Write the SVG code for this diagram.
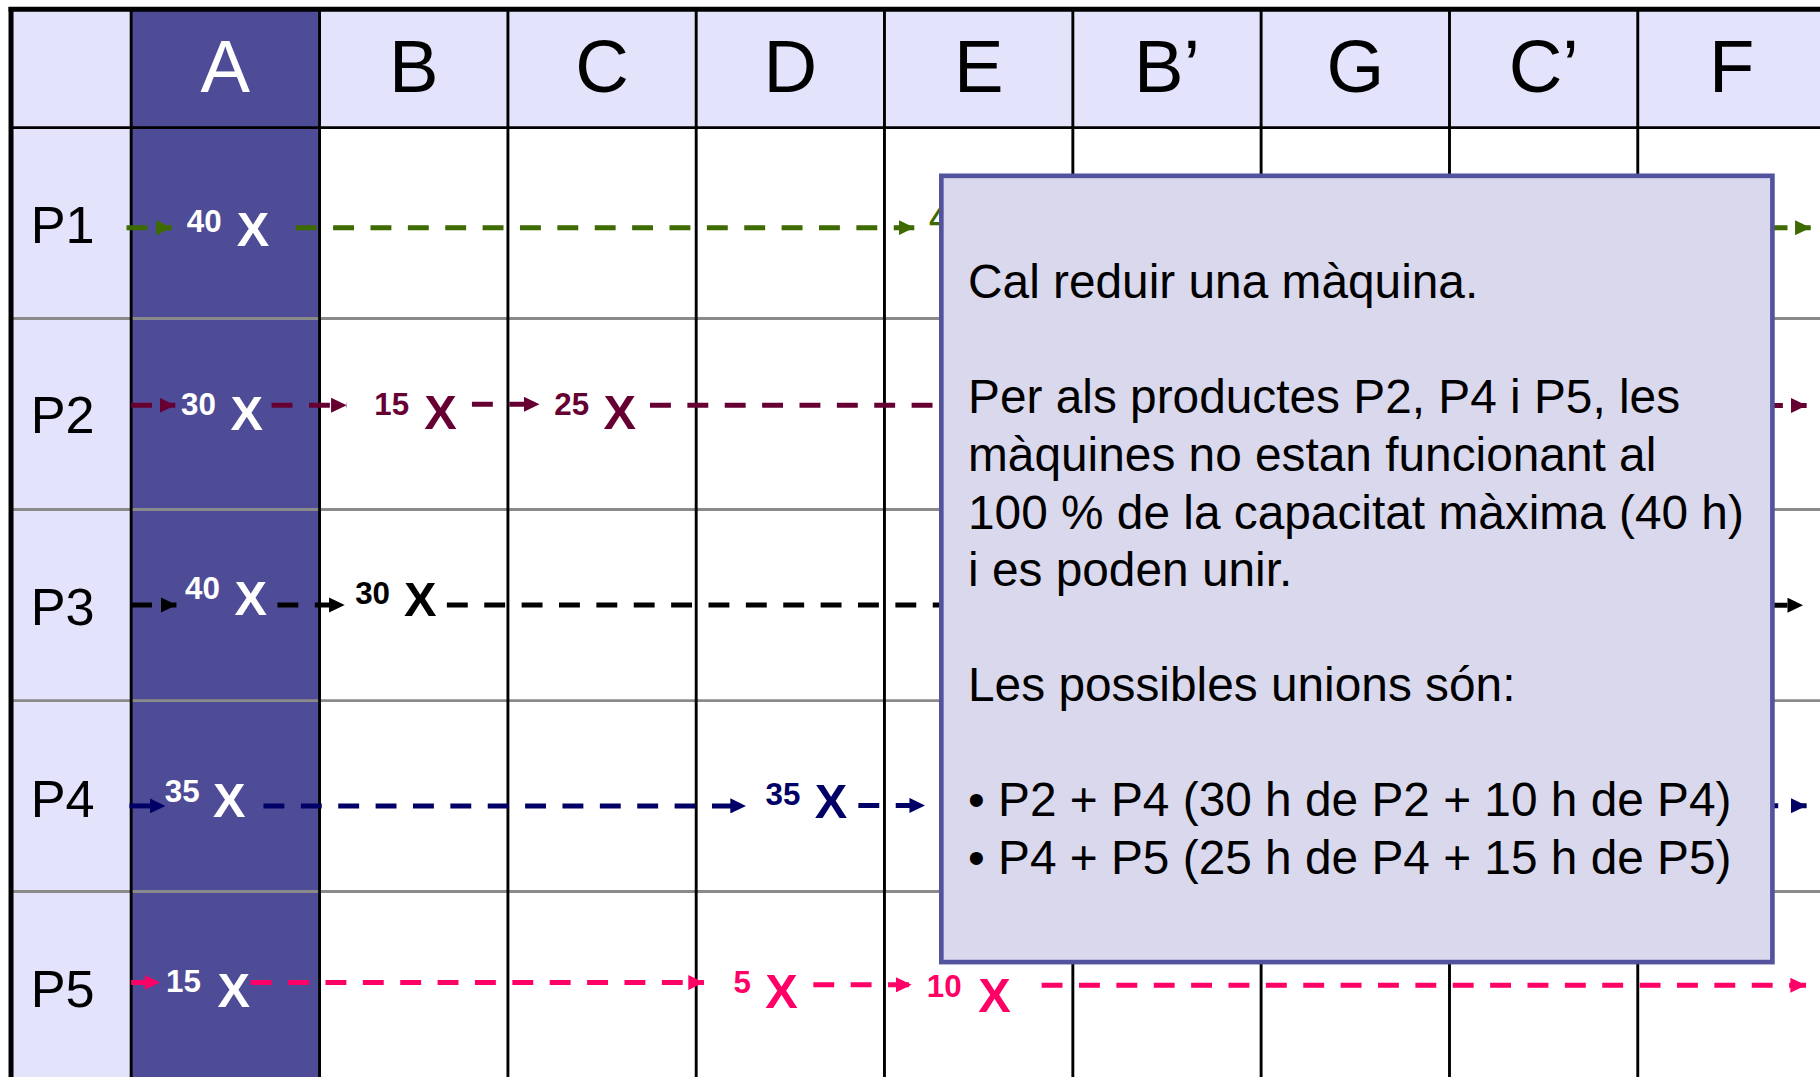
<svg xmlns="http://www.w3.org/2000/svg" width="1820" height="1077" viewBox="0 0 1820 1077">
<defs>
<style>
text{font-family:"Liberation Sans",Arial,Helvetica,sans-serif}
.hdr{font-size:64px;text-anchor:middle;fill:#000}
.rl{font-size:45px;fill:#000}
.num{font-size:27px;font-weight:bold}
.x{font-size:42px;font-weight:bold}
.note{font-size:41.2px;fill:#000}
.w{fill:#fff}
.vl{stroke:#000;stroke-width:2.5}
.hl{stroke:#8a8a8a;stroke-width:2.5}
.c{fill:none;stroke-width:4.3;stroke-dasharray:18 14.2}
.g{stroke:#3d6b00}.gt{fill:#3d6b00}
.m{stroke:#660033}.mt{fill:#660033}
.k{stroke:#000}.kt{fill:#000}
.n{stroke:#000066}.nt{fill:#000066}
.p{stroke:#ff0066}.pt{fill:#ff0066}
</style>
<marker id="ag" markerUnits="userSpaceOnUse" viewBox="0 0 13.5 13" refX="13.5" refY="6.5" markerWidth="13.5" markerHeight="13" orient="auto"><path d="M0,0 L13.5,6.5 L0,13 z" fill="#3d6b00"/></marker>
<marker id="am" markerUnits="userSpaceOnUse" viewBox="0 0 13.5 13" refX="13.5" refY="6.5" markerWidth="13.5" markerHeight="13" orient="auto"><path d="M0,0 L13.5,6.5 L0,13 z" fill="#660033"/></marker>
<marker id="ak" markerUnits="userSpaceOnUse" viewBox="0 0 13.5 13" refX="13.5" refY="6.5" markerWidth="13.5" markerHeight="13" orient="auto"><path d="M0,0 L13.5,6.5 L0,13 z" fill="#000"/></marker>
<marker id="an" markerUnits="userSpaceOnUse" viewBox="0 0 13.5 13" refX="13.5" refY="6.5" markerWidth="13.5" markerHeight="13" orient="auto"><path d="M0,0 L13.5,6.5 L0,13 z" fill="#000066"/></marker>
<marker id="ap" markerUnits="userSpaceOnUse" viewBox="0 0 13.5 13" refX="13.5" refY="6.5" markerWidth="13.5" markerHeight="13" orient="auto"><path d="M0,0 L13.5,6.5 L0,13 z" fill="#ff0066"/></marker>
</defs>
<rect x="0" y="0" width="1820" height="1077" fill="#fff"/>
<g transform="scale(1.160714 1.16056)">
<g id="grid">
<rect x="9.5" y="8" width="1560" height="102" fill="#e3e3fb"/>
<rect x="9.5" y="110" width="103.5" height="820" fill="#e3e3fb"/>
<rect x="113" y="8" width="162.3" height="922" fill="#4f4c97"/>
<line class="hl" x1="9.5" y1="274.5" x2="1570" y2="274.5"/>
<line class="hl" x1="9.5" y1="439" x2="1570" y2="439"/>
<line class="hl" x1="9.5" y1="603.7" x2="1570" y2="603.7"/>
<line class="hl" x1="9.5" y1="768.2" x2="1570" y2="768.2"/>
<line class="vl" x1="9.5" y1="110" x2="1570" y2="110"/>
<line class="vl" x1="113" y1="8" x2="113" y2="930"/>
<line class="vl" x1="275.3" y1="8" x2="275.3" y2="930"/>
<line class="vl" x1="437.6" y1="8" x2="437.6" y2="930"/>
<line class="vl" x1="599.8" y1="8" x2="599.8" y2="930"/>
<line class="vl" x1="762" y1="8" x2="762" y2="930"/>
<line class="vl" x1="924.3" y1="8" x2="924.3" y2="930"/>
<line class="vl" x1="1086.5" y1="8" x2="1086.5" y2="930"/>
<line class="vl" x1="1248.8" y1="8" x2="1248.8" y2="930"/>
<line class="vl" x1="1411" y1="8" x2="1411" y2="930"/>
<line x1="7.4" y1="8" x2="1570" y2="8" stroke="#000" stroke-width="4.3"/>
<line x1="9.5" y1="6" x2="9.5" y2="930" stroke="#000" stroke-width="4.3"/>
<text class="hdr w" x="194.2" y="79">A</text>
<text class="hdr" x="356.5" y="79">B</text>
<text class="hdr" x="518.7" y="79">C</text>
<text class="hdr" x="681" y="79">D</text>
<text class="hdr" x="843.2" y="79">E</text>
<text class="hdr" x="1005.4" y="79">B’</text>
<text class="hdr" x="1167.7" y="79">G</text>
<text class="hdr" x="1330" y="79">C’</text>
<text class="hdr" x="1492" y="79">F</text>
<text class="rl" x="26.5" y="209.6">P1</text>
<text class="rl" x="26.5" y="373.3">P2</text>
<text class="rl" x="26.5" y="538.5">P3</text>
<text class="rl" x="26.5" y="703.6">P4</text>
<text class="rl" x="26.5" y="868">P5</text>
</g>
<g id="connectors">
<line class="c g" x1="109" y1="196.2" x2="148" y2="196.2" marker-end="url(#ag)"/>
<line class="c g" x1="254.8" y1="196.2" x2="787.7" y2="196.2" marker-end="url(#ag)"/>
<line class="c g" x1="1522" y1="196.2" x2="1560" y2="196.2" marker-end="url(#ag)"/>
<line class="c m" x1="113" y1="349.2" x2="151" y2="349.2" marker-end="url(#am)"/>
<line class="c m" x1="234" y1="349.2" x2="298.7" y2="349.2" marker-end="url(#am)"/>
<line class="c m" x1="406.6" y1="348.3" x2="464.7" y2="348.3" marker-end="url(#am)"/>
<line class="c m" x1="560" y1="349.2" x2="900" y2="349.2"/>
<line class="c m" x1="1518" y1="349.4" x2="1556.5" y2="349.4" marker-end="url(#am)"/>
<line class="c k" x1="113" y1="521.3" x2="152" y2="521.3" marker-end="url(#ak)"/>
<line class="c k" x1="239" y1="521.3" x2="297" y2="521.3" marker-end="url(#ak)"/>
<line class="c k" x1="385" y1="521.3" x2="900" y2="521.3"/>
<line class="c k" x1="1522" y1="521.5" x2="1553.5" y2="521.5" marker-end="url(#ak)"/>
<line class="c n" x1="111.5" y1="694.4" x2="142.6" y2="694.4" marker-end="url(#an)"/>
<line class="c n" x1="227" y1="694.4" x2="642.7" y2="694.4" marker-end="url(#an)"/>
<line class="c n" x1="739.5" y1="694" x2="797" y2="694" marker-end="url(#an)"/>
<line class="c n" x1="1514" y1="694.2" x2="1556.5" y2="694.2" marker-end="url(#an)"/>
<line class="c p" x1="113" y1="846.6" x2="138" y2="846.6" marker-end="url(#ap)"/>
<line class="c p" x1="216" y1="846.6" x2="606.5" y2="846.6" marker-end="url(#ap)"/>
<line class="c p" x1="700.7" y1="848.6" x2="785.4" y2="848.6" marker-end="url(#ap)"/>
<line class="c p" x1="897.4" y1="849" x2="1556" y2="849" marker-end="url(#ap)"/>
</g>
<g id="p1-a"><text class="num w" x="161" y="199.6">40</text><text class="x w" x="204" y="212">X</text></g>
<g id="p1-e"><text class="num gt" x="800.5" y="198">40</text></g>
<g id="p2-a"><text class="num w" x="156" y="357.6">30</text><text class="x w" x="198.5" y="370.5">X</text></g>
<g id="p2-b"><text class="num mt" x="322.5" y="357.6">15</text><text class="x mt" x="365.5" y="369.5">X</text></g>
<g id="p2-c"><text class="num mt" x="477.5" y="357.6">25</text><text class="x mt" x="520" y="369.5">X</text></g>
<g id="p3-a"><text class="num w" x="159.5" y="516">40</text><text class="x w" x="202" y="530">X</text></g>
<g id="p3-b"><text class="num kt" x="306" y="520.3">30</text><text class="x kt" x="348" y="531">X</text></g>
<g id="p4-a"><text class="num w" x="142" y="690.7">35</text><text class="x w" x="183.5" y="703.6">X</text></g>
<g id="p4-d"><text class="num nt" x="659.5" y="693.5">35</text><text class="x nt" x="702" y="705">X</text></g>
<g id="p5-a"><text class="num w" x="143" y="855.2">15</text><text class="x w" x="187.3" y="867.6">X</text></g>
<g id="p5-d"><text class="num pt" x="632" y="855.3">5</text><text class="x pt" x="659.4" y="868.8">X</text></g>
<g id="p5-e"><text class="num pt" x="798.5" y="858.7">10</text><text class="x pt" x="842.7" y="871.6">X</text></g>
<g id="note">
<rect x="811" y="151.5" width="716" height="677.5" fill="#dad8ec" stroke="#52529e" stroke-width="4"/>
<text class="note" x="834" y="257">Cal reduir una màquina.</text>
<text class="note" x="834" y="356.2">Per als productes P2, P4 i P5, les</text>
<text class="note" x="834" y="405.8">màquines no estan funcionant al</text>
<text class="note" x="834" y="455.4">100 % de la capacitat màxima (40 h)</text>
<text class="note" x="834" y="505">i es poden unir.</text>
<text class="note" x="834" y="604.2">Les possibles unions són:</text>
<text class="note" x="834" y="703.4">• P2 + P4 (30 h de P2 + 10 h de P4)</text>
<text class="note" x="834" y="753">• P4 + P5 (25 h de P4 + 15 h de P5)</text>
</g>
</g>
</svg>
